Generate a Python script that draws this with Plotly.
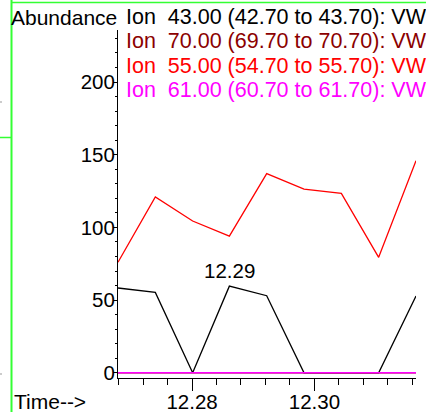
import plotly.graph_objects as go

# ---- data ----
times = [12.2679, 12.2740, 12.2801, 12.2861, 12.2922, 12.2983, 12.3044, 12.3105, 12.3166]
ion43 = [58.3, 55.3, 0, 59.6, 53.0, 0, 0, 0, 52.8]
ion70 = [0, 0, 0, 0, 0, 0, 0, 0, 0]
ion55 = [76.0, 121.0, 104.4, 94.0, 137.0, 126.4, 123.4, 79.4, 145.9]
ion61 = [0, 0, 0, 0, 0, 0, 0, 0, 0]

series_names = [
    "Ion\u00a0 43.00 (42.70 to 43.70): VW0001.D\\data.ms",
    "Ion\u00a0 70.00 (69.70 to 70.70): VW0001.D\\data.ms",
    "Ion\u00a0 55.00 (54.70 to 55.70): VW0001.D\\data.ms",
    "Ion\u00a0 61.00 (60.70 to 61.70): VW0001.D\\data.ms",
]
series_values = [ion43, ion70, ion55, ion61]
series_colors = ["#000000", "#8B0000", "#FF0000", "#FF00FF"]

peak_label = "12.29"
peak_index = 3

x_ticks = [12.28, 12.30]
x_tick_text = ["12.28", "12.30"]
y_ticks = [0, 50, 100, 150, 200]

FONT = "Liberation Sans, Arial, sans-serif"
W, H = 426, 412
L, R, T, B = 118, 10, 30, 34
PW, PH = W - L - R, H - T - B


def px(xp):
    return (xp - L) / PW


def py(yp):
    return (H - B - yp) / PH


fig = go.Figure()
for name, vals, col in zip(series_names, series_values, series_colors):
    fig.add_trace(go.Scatter(x=times, y=vals, mode="lines", name=name,
                             line=dict(color=col, width=1.3), showlegend=False))

annotations = []
for i, (name, col) in enumerate(zip(series_names, series_colors)):
    annotations.append(dict(text=name, xref="paper", yref="paper",
                            x=px(124), y=py(17 + i * 24.4), xanchor="left", yanchor="middle",
                            showarrow=False, font=dict(family=FONT, size=21.5, color=col)))
annotations.append(dict(text="Abundance", xref="paper", yref="paper",
                        x=px(118.5), y=py(17), xanchor="right", yanchor="middle",
                        showarrow=False, font=dict(family=FONT, size=21, color="black")))
annotations.append(dict(text="Time-->", xref="paper", yref="paper",
                        x=px(11.5), y=py(401), xanchor="left", yanchor="middle",
                        showarrow=False, font=dict(family=FONT, size=21, color="black")))
annotations.append(dict(text=peak_label, x=times[peak_index], y=ion43[peak_index],
                        xanchor="center", yanchor="bottom", yshift=2,
                        showarrow=False, font=dict(family=FONT, size=20.5, color="black")))

green = "#33FF33"
shapes = [
    dict(type="line", xref="paper", yref="paper", x0=px(11.5), x1=px(11.5), y0=py(0), y1=py(412),
         line=dict(color=green, width=2)),
    dict(type="line", xref="paper", yref="paper", x0=px(11), x1=px(426), y0=py(2.5), y1=py(2.5),
         line=dict(color=green, width=1.5)),
    dict(type="line", xref="paper", yref="paper", x0=px(0), x1=px(11), y0=py(137.5), y1=py(137.5),
         line=dict(color=green, width=1.5)),
    dict(type="line", xref="paper", yref="paper", x0=px(0), x1=px(2), y0=py(102), y1=py(102),
         line=dict(color="#999999", width=1)),
    dict(type="line", xref="paper", yref="paper", x0=px(0), x1=px(2), y0=py(374), y1=py(374),
         line=dict(color="#999999", width=1)),
]

fig.update_layout(
    width=W, height=H,
    margin=dict(l=L, r=R, t=T, b=B, pad=0, autoexpand=False),
    paper_bgcolor="white", plot_bgcolor="white",
    annotations=annotations, shapes=shapes,
    font=dict(family=FONT, size=20, color="black"),
    xaxis=dict(range=[times[0], times[-1]], showgrid=False, zeroline=False, automargin=False,
               showline=True, linecolor="black", linewidth=1,
               tickmode="array", tickvals=x_ticks, ticktext=x_tick_text,
               ticks="outside", ticklen=12, tickcolor="black", tickwidth=1,
               ticklabelstandoff=-7,
               tickfont=dict(family=FONT, size=20.5, color="black"),
               minor=dict(dtick=0.004, tick0=12.28, ticks="outside", ticklen=6,
                          tickcolor="black", tickwidth=1, showgrid=False)),
    yaxis=dict(range=[-3.6, 235.8], showgrid=False, zeroline=False, automargin=False,
               showline=True, linecolor="black", linewidth=1,
               tickmode="array", tickvals=y_ticks,
               ticks="outside", ticklen=4, tickcolor="black", tickwidth=1,
               ticklabelstandoff=-6,
               tickfont=dict(family=FONT, size=20.5, color="black"),
               minor=dict(dtick=10, tick0=0, ticks="outside", ticklen=2,
                          tickcolor="black", tickwidth=1, showgrid=False)),
)

fig.write_html("out.html", config={"displayModeBar": False},
               post_script="document.body.style.margin='0px';document.body.style.overflow='hidden';")
